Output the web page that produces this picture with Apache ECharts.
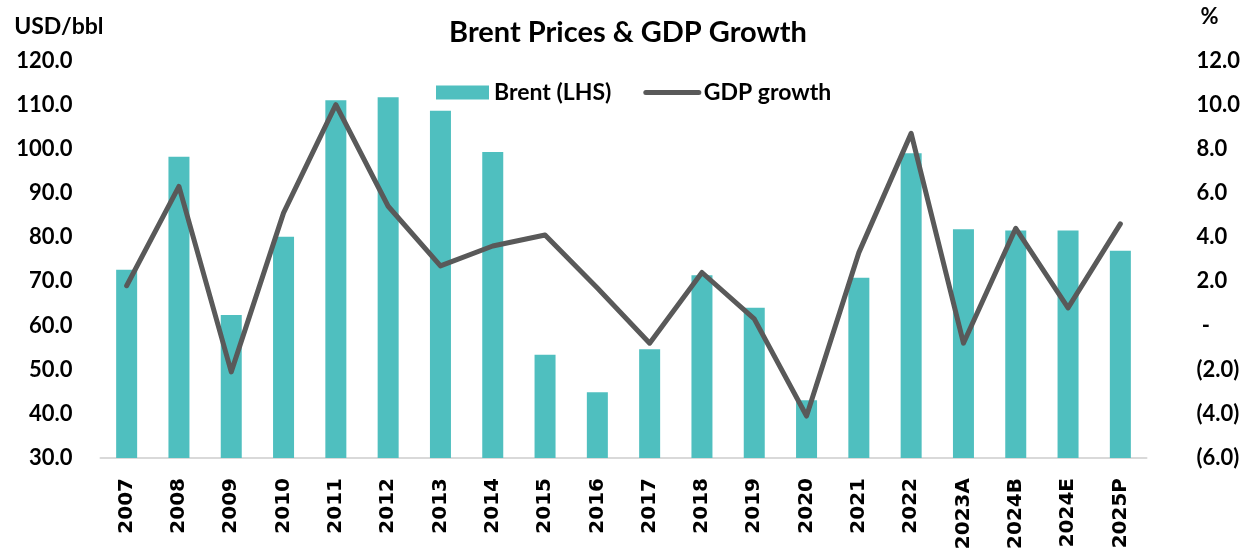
<!DOCTYPE html>
<html>
<head>
<meta charset="utf-8">
<script src="https://cdn.jsdelivr.net/npm/echarts@6/dist/echarts.min.js"></script>
<style>
  html, body { margin: 0; padding: 0; background: #fff; }
  #main { width: 1256px; height: 548px; }
</style>
</head>
<body>
<div id="main"></div>
<script>
// years on the x axis
var years = ['2007', '2008', '2009', '2010', '2011', '2012', '2013', '2014', '2015', '2016',
  '2017', '2018', '2019', '2020', '2021', '2022', '2023A', '2024B', '2024E', '2025P'];
// Brent price, USD/bbl (left axis)
var brent = [72.6, 98.2, 62.4, 80.1, 111.0, 111.7, 108.6, 99.3, 53.4, 44.9,
  54.6, 71.4, 64.0, 43.1, 70.8, 99.0, 81.8, 81.5, 81.5, 76.9];
// GDP growth, % (right axis)
var gdpGrowth = [1.8, 6.3, -2.1, 5.1, 10.0, 5.4, 2.7, 3.6, 4.1, 1.7,
  -0.8, 2.4, 0.3, -4.1, 3.3, 8.7, -0.8, 4.4, 0.8, 4.6];

var fontFam = 'Lato';
var chartDom = document.getElementById('main');
var myChart = echarts.init(chartDom);

var option = {
  animation: false,
  backgroundColor: '#fff',
  title: {
    text: 'Brent Prices & GDP Growth',
    left: 'center',
    top: 13,
    textStyle: { fontFamily: fontFam, fontWeight: 'bold', fontSize: 29, color: '#000' }
  },
  legend: {
    left: 436,
    top: 81,
    padding: 0,
    itemWidth: 53,
    itemHeight: 14,
    itemGap: 32,
    textStyle: { fontFamily: fontFam, fontWeight: 'bold', fontSize: 23, color: '#000' },
    data: [
      { name: 'Brent (LHS)', icon: 'rect' },
      {
        name: 'GDP growth',
        itemStyle: { opacity: 0 },
        lineStyle: { width: 5, color: '#595959', cap: 'round' }
      }
    ]
  },
  grid: { left: 100.5, right: 109.5, top: 60.5, bottom: 90, outerBoundsMode: 'none' },
  xAxis: {
    type: 'category',
    data: years,
    axisLine: { onZero: false, lineStyle: { color: '#d9d9d9', width: 2 } },
    axisTick: { show: false },
    axisLabel: {
      rotate: 90,
      margin: 20,
      interval: 0,
      fontFamily: 'DejaVu Sans',
      fontWeight: 'bold',
      fontSize: 20,
      color: '#000'
    }
  },
  yAxis: [
    {
      type: 'value',
      min: 30,
      max: 120,
      interval: 10,
      name: 'USD/bbl',
      nameLocation: 'end',
      nameGap: 22,
      nameTextStyle: { fontFamily: fontFam, fontWeight: 'bold', fontSize: 23, color: '#000', align: 'right', padding: [0, -3, 0, 0] },
      axisLine: { show: false },
      axisTick: { show: false },
      splitLine: { show: false },
      axisLabel: {
        margin: 28,
        fontFamily: fontFam, fontWeight: 'bold', fontSize: 22, color: '#000',
        formatter: function (v) { return v.toFixed(1); }
      }
    },
    {
      type: 'value',
      min: -6,
      max: 12,
      interval: 2,
      name: '%',
      nameLocation: 'end',
      nameGap: 33,
      nameTextStyle: { fontFamily: fontFam, fontWeight: 'bold', fontSize: 22, color: '#000', align: 'left', padding: [0, 0, 0, 54] },
      axisLine: { show: false },
      axisTick: { show: false },
      splitLine: { show: false },
      axisLabel: {
        margin: 50,
        align: 'left',
        fontFamily: fontFam, fontWeight: 'bold', fontSize: 22, color: '#000',
        formatter: function (v) {
          if (v === 0) return ' -';
          if (v < 0) return '(' + Math.abs(v).toFixed(1) + ')';
          return v.toFixed(1);
        }
      }
    }
  ],
  series: [
    {
      name: 'Brent (LHS)',
      type: 'bar',
      yAxisIndex: 0,
      data: brent,
      barWidth: 21,
      itemStyle: { color: '#4fbfbf' }
    },
    {
      name: 'GDP growth',
      type: 'line',
      yAxisIndex: 1,
      data: gdpGrowth,
      symbol: 'none',
      lineStyle: { color: '#595959', width: 5, join: 'round', cap: 'round' },
      itemStyle: { color: '#595959' }
    }
  ]
};

myChart.setOption(option);
</script>
</body>
</html>
